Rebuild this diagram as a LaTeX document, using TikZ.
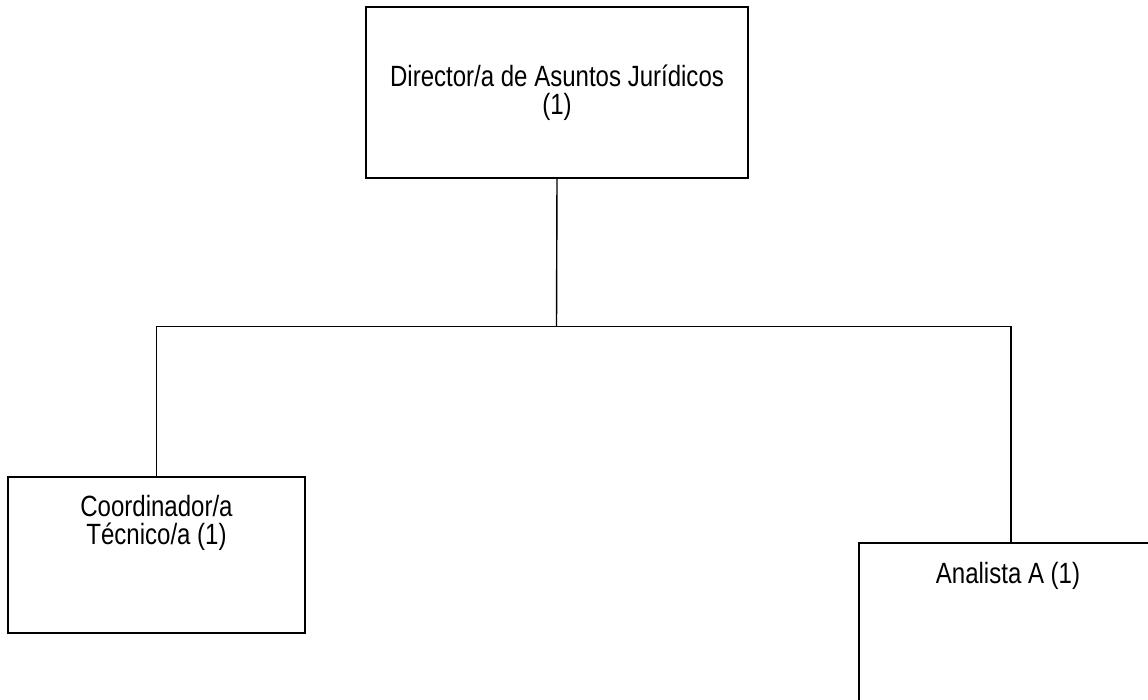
\documentclass[tikz,border=0pt]{standalone}
\usepackage{fontspec}
\setmainfont{Liberation Sans}[FakeStretch=0.82]
\begin{document}
\begin{tikzpicture}[x=1pt,y=-1pt,
  box/.style={draw=black, line width=1.4pt, fill=white, inner sep=0pt, outer sep=0pt},
  lbl/.style={inner sep=0pt, align=center, font=\fontsize{29.3}{28}\selectfont},
  conn/.style={draw=black, line width=1.4pt}]
\clip (0,0) rectangle (1148,700);
\fill[white] (0,0) rectangle (1148,700);
% boxes
\node[box, minimum width=382pt, minimum height=171pt] (dir) at (557,92.5) {};
\node[box, minimum width=297pt, minimum height=156pt] (coord) at (156.5,555) {};
\node[box, minimum width=304pt, minimum height=190pt] (ana) at (1011,638) {};
% texts
\node[lbl] (dirt) at (dir.center) {Director/a de Asuntos Jurídicos\\(1)};
\node[lbl, anchor=north] (coordt) at (156.5,495) {Coordinador/a\\Técnico/a (1)};
\node[lbl, anchor=north] (anat) at (1008,562) {Analista A (1)};
% connectors
\coordinate (j) at (556.5,326.5);
\draw[conn] (dir.south) -- (j);
\draw[conn] (j) -| (coord.north);
\draw[conn] (j) -| (ana.north);
\end{tikzpicture}
\end{document}
